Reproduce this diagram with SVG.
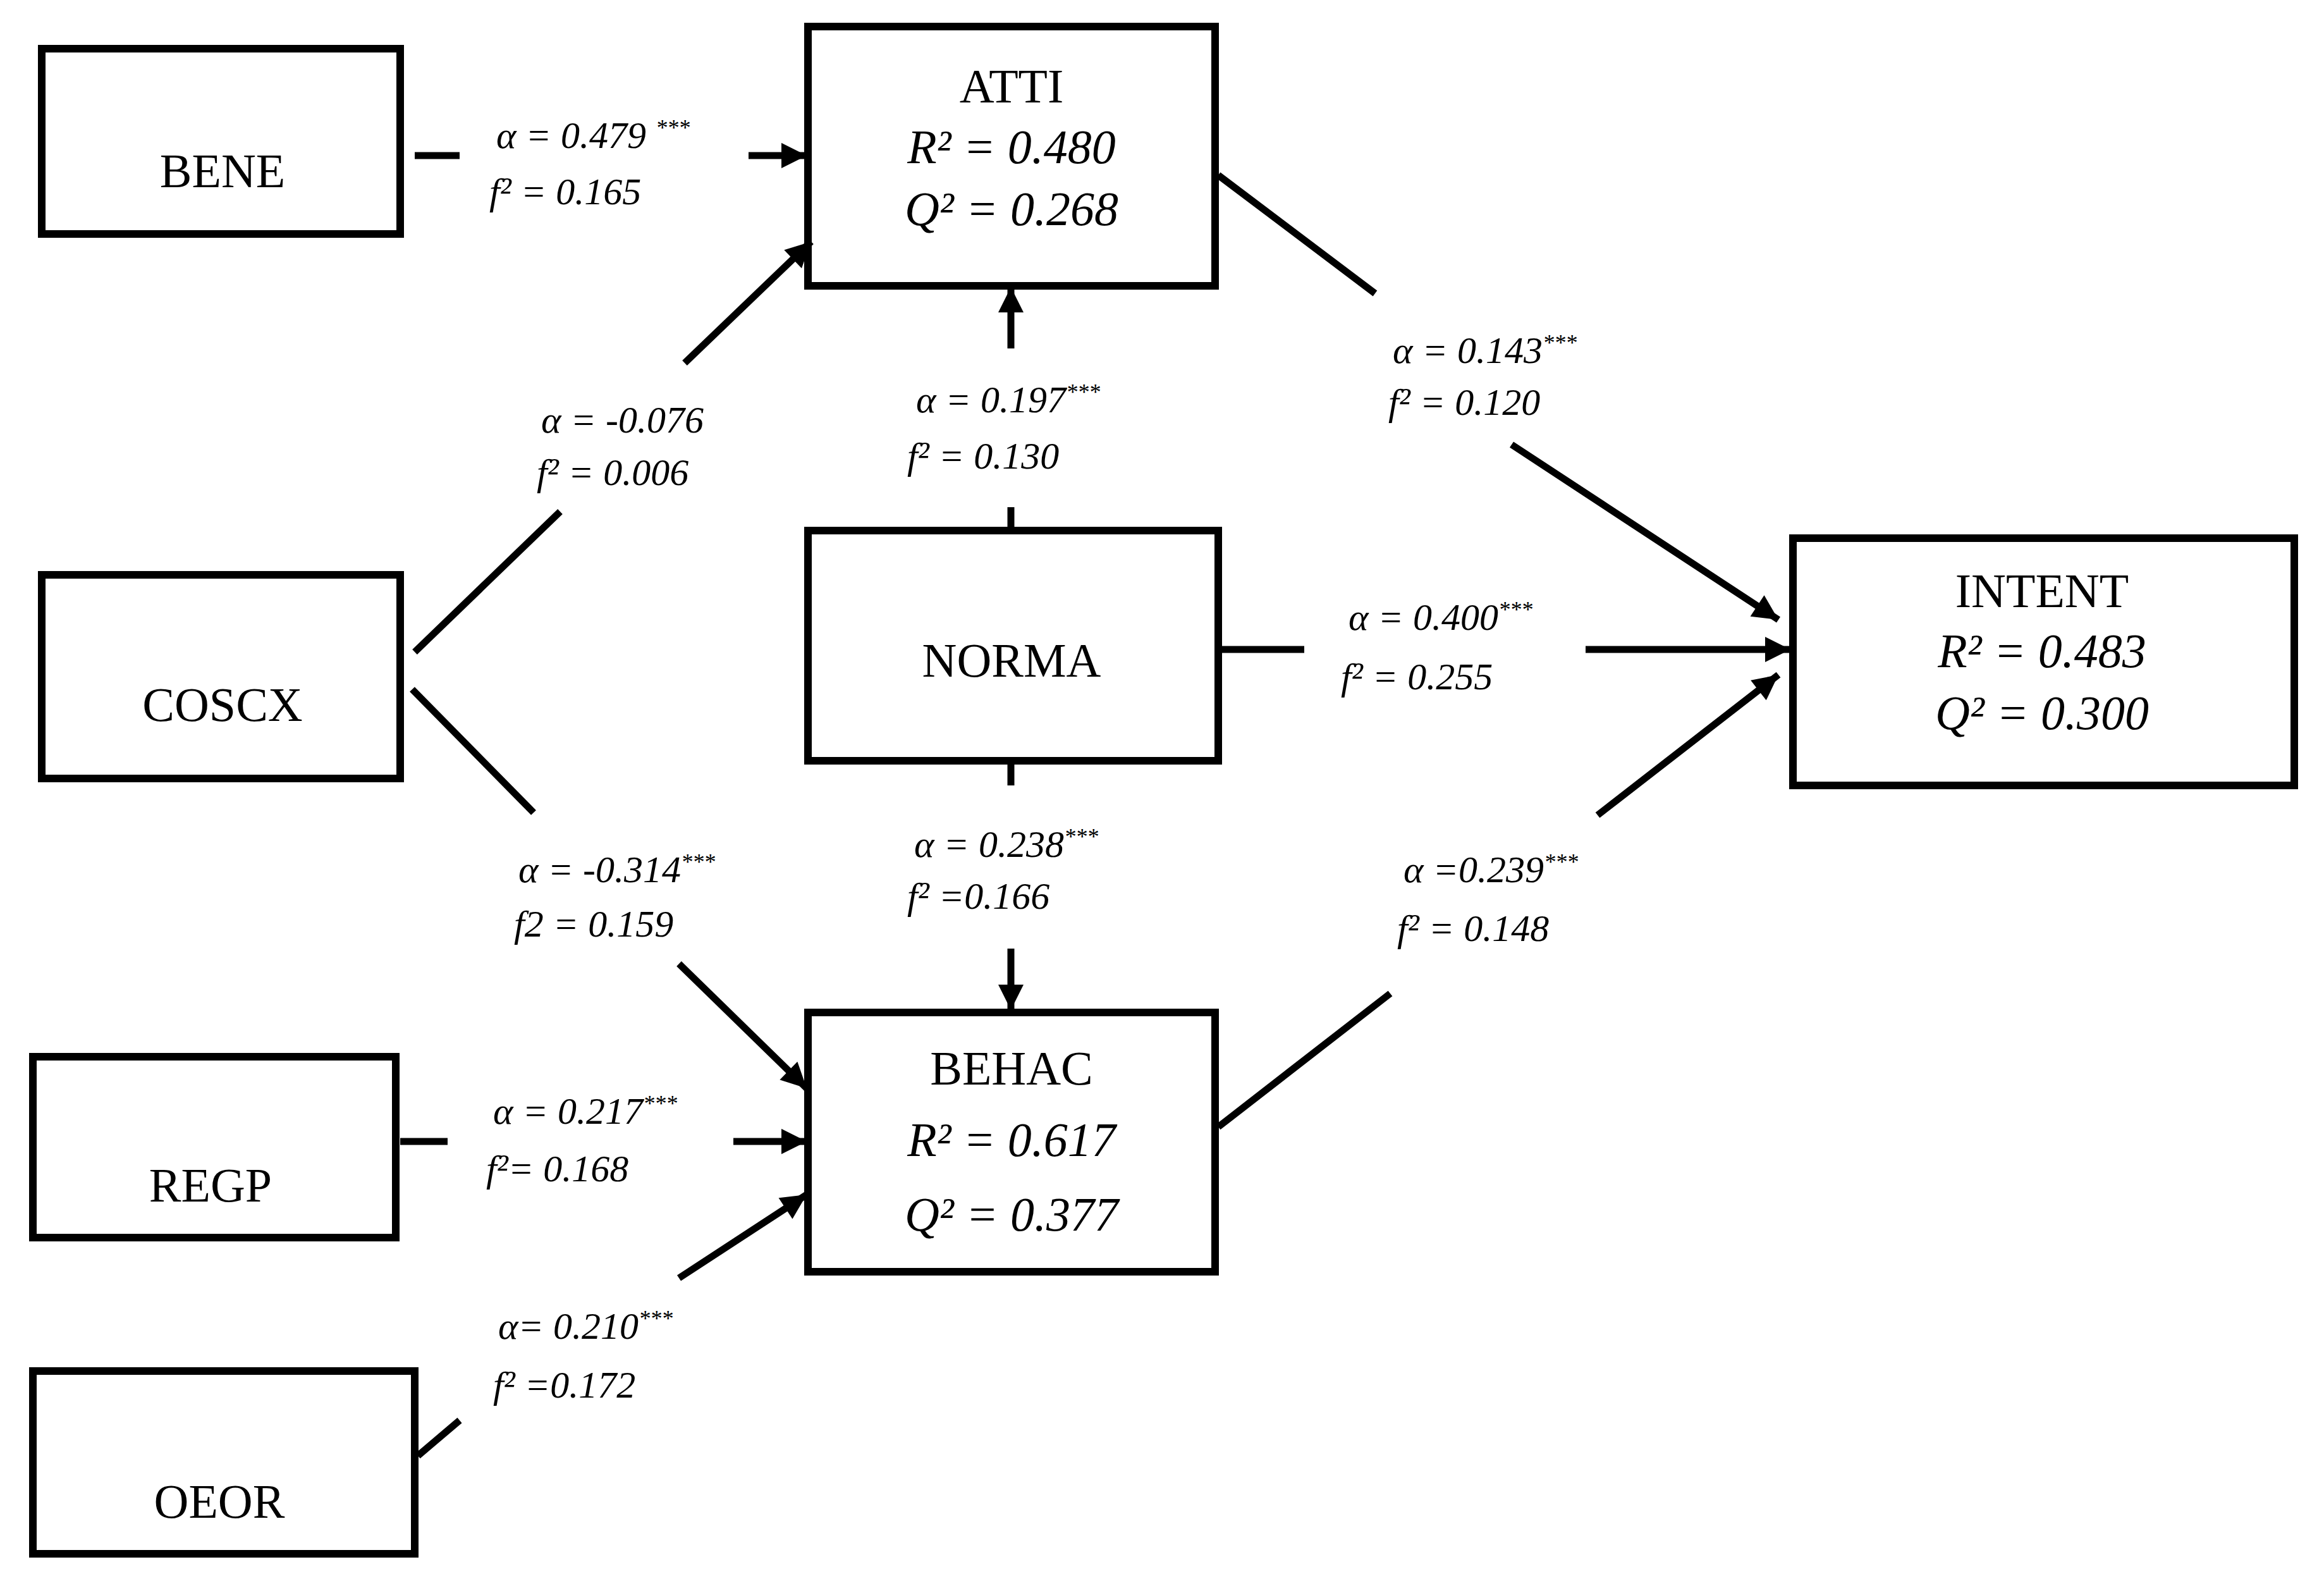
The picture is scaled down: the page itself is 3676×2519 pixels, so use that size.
<svg xmlns="http://www.w3.org/2000/svg" width="3676" height="2519" viewBox="0 0 3676 2519">
<style>
.box{fill:#fff;stroke:#000;stroke-width:12}
.c{stroke:#000;stroke-width:11;fill:none}
.n{font-family:"Liberation Serif",serif;font-size:76px;text-anchor:middle;fill:#000}
.s{font-family:"Liberation Serif",serif;font-size:76px;font-style:italic;text-anchor:middle;fill:#000}
.l{font-family:"Liberation Serif",serif;font-size:60px;font-style:italic;fill:#000}
.sup{font-size:36px}
</style>
<defs>
<marker id="a" viewBox="0 0 10 10" refX="10" refY="5" markerWidth="44" markerHeight="40" markerUnits="userSpaceOnUse" orient="auto">
<path d="M0,0 L10,5 L0,10 z" fill="#000"/>
</marker>
</defs>
<rect width="3676" height="2519" fill="#fff"/>
<g id="BENE"><rect class="box" x="66" y="77" width="567" height="293"/><text class="n" x="352" y="296">BENE</text></g>
<g id="ATTI"><rect class="box" x="1278" y="42" width="644" height="410"/><text class="n" x="1600" y="162">ATTI</text><text class="s" x="1600" y="258">R² = 0.480</text><text class="s" x="1600" y="356">Q² = 0.268</text></g>
<g id="COSCX"><rect class="box" x="66" y="909" width="567" height="322"/><text class="n" x="352" y="1140">COSCX</text></g>
<g id="NORMA"><rect class="box" x="1278" y="839" width="649" height="364"/><text class="n" x="1600" y="1070">NORMA</text></g>
<g id="INTENT"><rect class="box" x="2836" y="851" width="793" height="391"/><text class="n" x="3230" y="960">INTENT</text><text class="s" x="3230" y="1055">R² = 0.483</text><text class="s" x="3230" y="1153">Q² = 0.300</text></g>
<g id="REGP"><rect class="box" x="52" y="1671" width="574" height="286"/><text class="n" x="333" y="1900">REGP</text></g>
<g id="BEHAC"><rect class="box" x="1278" y="1601" width="644" height="410"/><text class="n" x="1600" y="1715">BEHAC</text><text class="s" x="1600" y="1828">R² = 0.617</text><text class="s" x="1600" y="1946">Q² = 0.377</text></g>
<g id="OEOR"><rect class="box" x="52" y="2168" width="604" height="289"/><text class="n" x="347" y="2400">OEOR</text></g>
<g id="connectors">
<line class="c" x1="656" y1="246" x2="727" y2="246"/><line class="c" x1="1184" y1="246" x2="1276" y2="246" marker-end="url(#a)"/>
<line class="c" x1="656" y1="1031" x2="886" y2="809"/><line class="c" x1="1083" y1="574" x2="1283" y2="382" marker-end="url(#a)"/>
<line class="c" x1="1599" y1="839" x2="1599" y2="802"/><line class="c" x1="1599" y1="551" x2="1599" y2="454" marker-end="url(#a)"/>
<line class="c" x1="1927" y1="277" x2="2175" y2="464"/><line class="c" x1="2391" y1="703" x2="2813" y2="980" marker-end="url(#a)"/>
<line class="c" x1="1927" y1="1027" x2="2063" y2="1027"/><line class="c" x1="2508" y1="1027" x2="2832" y2="1027" marker-end="url(#a)"/>
<line class="c" x1="1927" y1="1782" x2="2199" y2="1571"/><line class="c" x1="2527" y1="1289" x2="2813" y2="1067" marker-end="url(#a)"/>
<line class="c" x1="652" y1="1090" x2="844" y2="1285"/><line class="c" x1="1074" y1="1524" x2="1276" y2="1721" marker-end="url(#a)"/>
<line class="c" x1="1599" y1="1207" x2="1599" y2="1242"/><line class="c" x1="1599" y1="1500" x2="1599" y2="1597" marker-end="url(#a)"/>
<line class="c" x1="633" y1="1805" x2="708" y2="1805"/><line class="c" x1="1160" y1="1805" x2="1276" y2="1805" marker-end="url(#a)"/>
<line class="c" x1="661" y1="2302" x2="727" y2="2246"/><line class="c" x1="1074" y1="2021" x2="1276" y2="1889" marker-end="url(#a)"/>
</g>
<g id="labels">
<text class="l" x="785" y="234">α = 0.479 <tspan class="sup" dy="-20">***</tspan></text><text class="l" x="774" y="323">f² = 0.165</text>
<text class="l" x="856" y="684">α = -0.076</text><text class="l" x="849" y="767">f² = 0.006</text>
<text class="l" x="1449" y="652">α = 0.197<tspan class="sup" dy="-20">***</tspan></text><text class="l" x="1435" y="741">f² = 0.130</text>
<text class="l" x="2203" y="574">α = 0.143<tspan class="sup" dy="-20">***</tspan></text><text class="l" x="2196" y="656">f² = 0.120</text>
<text class="l" x="2133" y="996">α = 0.400<tspan class="sup" dy="-20">***</tspan></text><text class="l" x="2121" y="1090">f² = 0.255</text>
<text class="l" x="820" y="1395">α = -0.314<tspan class="sup" dy="-20">***</tspan></text><text class="l" x="813" y="1481">f2 = 0.159</text>
<text class="l" x="1446" y="1355">α = 0.238<tspan class="sup" dy="-20">***</tspan></text><text class="l" x="1435" y="1437">f² =0.166</text>
<text class="l" x="2220" y="1395">α =0.239<tspan class="sup" dy="-20">***</tspan></text><text class="l" x="2210" y="1488">f² = 0.148</text>
<text class="l" x="780" y="1777">α = 0.217<tspan class="sup" dy="-20">***</tspan></text><text class="l" x="769" y="1868">f²= 0.168</text>
<text class="l" x="788" y="2117">α= 0.210<tspan class="sup" dy="-20">***</tspan></text><text class="l" x="780" y="2210">f² =0.172</text>
</g>
</svg>
